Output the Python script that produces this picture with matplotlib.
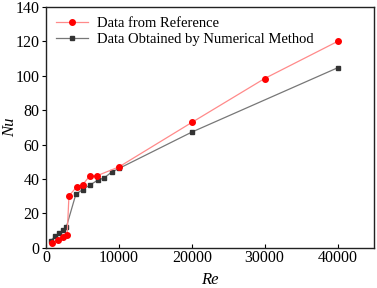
import matplotlib
matplotlib.use("Agg")
import matplotlib.pyplot as plt

re_ref = [870, 1600, 2280, 2900, 3150, 4200, 5050, 6000, 7050, 10000, 20000, 30000, 40000]
nu_ref = [3.1, 4.5, 6.4, 7.4, 30.2, 35.4, 36.8, 41.8, 42.0, 47.0, 72.8, 98.3, 119.8]

re_num = [640, 1280, 1780, 2330, 2780, 4100, 5050, 6050, 7100, 8000, 9000, 10000, 20000, 40000]
nu_num = [4.3, 6.8, 8.5, 10.3, 12.0, 31.2, 33.9, 36.6, 39.3, 40.7, 44.0, 46.1, 67.2, 104.5]

xticks = [0, 10000, 20000, 30000, 40000]
yticks = [0, 20, 40, 60, 80, 100, 120, 140]

plt.rcParams['font.family'] = ['Liberation Serif', 'DejaVu Serif']

fig = plt.figure(figsize=(3.77, 2.88), dpi=100)
ax = fig.add_axes([0.122, 0.139, 0.870, 0.838])

ax.plot(re_ref, nu_ref, color='#ff8a8a', lw=0.9, marker='o', ms=4,
        mfc='#ff0000', mec='#ff0000', label='Data from Reference', zorder=3)
ax.plot(re_num, nu_num, color='#777777', lw=0.9, marker='s', ms=3.5,
        mfc='#333333', mec='#333333', label='Data Obtained by Numerical Method', zorder=2)

ax.set_xlim(0, 45000)
ax.set_ylim(0, 140)
ax.set_xticks(xticks)
ax.set_yticks(yticks)
ax.tick_params(axis='x', direction='in', length=3, labelsize=11.5, pad=1.5)
ax.tick_params(axis='y', direction='out', length=3, labelsize=11.5, pad=1.5)
for s in ax.spines.values():
    s.set_linewidth(1.0)
    s.set_color('#222222')

ax.set_xlabel('Re', fontstyle='italic', fontsize=12, labelpad=4)
ax.set_ylabel('Nu', fontstyle='italic', fontsize=12)
ax.yaxis.set_label_coords(-0.085, 0.5)

ax.legend(loc='upper left', frameon=False, fontsize=10.5, handlelength=2.2,
          handletextpad=0.6, borderaxespad=0.3, labelspacing=0.2,
          bbox_to_anchor=(0.0, 1.0))

fig.savefig('out.png', dpi=100)
